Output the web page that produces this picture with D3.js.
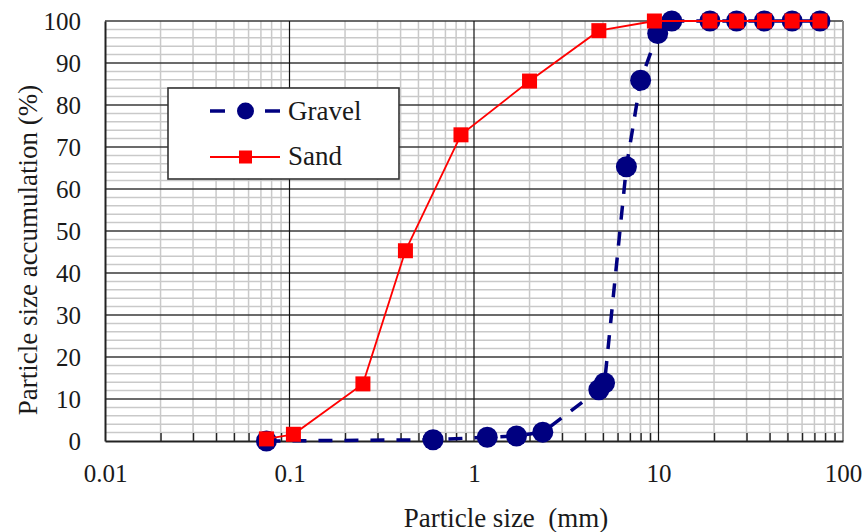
<!DOCTYPE html>
<html>
<head>
<meta charset="utf-8">
<script src="https://cdn.jsdelivr.net/npm/d3@7"></script>
<style>
  html, body { margin: 0; padding: 0; background: #fff; }
  svg { display: block; }
  svg text { font-family: "Times New Roman", "Liberation Serif", Tinos, "DejaVu Serif", serif; }
</style>
</head>
<body>
<svg id="chart" width="865" height="532"></svg>
<script>
// Sieve sizes (mm) and cumulative passing (%) for each material
const gravelSize = [0.075, 0.6, 1.18, 1.7, 2.36, 4.75, 5.1, 6.7, 8, 9.9, 11.8, 19, 26.5, 37.5, 53, 75];
const gravelPass = [0, 0.3, 0.9, 1.2, 2.1, 12.2, 13.8, 65.3, 85.9, 97, 100, 100, 100, 100, 100, 100];
const sandSize = [0.075, 0.105, 0.25, 0.425, 0.85, 2, 4.75, 9.5, 19, 26.5, 37.5, 53, 75];
const sandPass = [0.5, 1.6, 13.6, 45.3, 72.9, 85.7, 97.7, 100, 100, 100, 100, 100, 100];

// Axis tick labels
const xTickValues = [0.01, 0.1, 1, 10, 100];
const xTickLabels = ["0.01", "0.1", "1", "10", "100"];
const yTickValues = [0, 10, 20, 30, 40, 50, 60, 70, 80, 90, 100];

const FONT = '"Times New Roman", "Liberation Serif", Tinos, "DejaVu Serif", serif';
const svg = d3.select("#chart");
const plot = { left: 105, right: 843, top: 21, bottom: 441 };

const x = d3.scaleLog().domain([0.01, 100]).range([plot.left, plot.right]);
const y = d3.scaleLinear().domain([0, 100]).range([plot.bottom, plot.top]);

const g = svg.append("g");

// Minor grid (every 2 % and 2..9 within each decade)
const xMinor = x.ticks().filter(d => !xTickValues.includes(d));
const yMinor = y.ticks(50).filter(d => d % 10 !== 0);

g.append("g").selectAll("line").data(xMinor).join("line")
  .attr("x1", d => x(d)).attr("x2", d => x(d))
  .attr("y1", plot.top).attr("y2", plot.bottom)
  .attr("stroke", "#c9c9c9").attr("stroke-width", 1.5);

g.append("g").selectAll("line").data(yMinor).join("line")
  .attr("x1", plot.left).attr("x2", plot.right)
  .attr("y1", d => y(d)).attr("y2", d => y(d))
  .attr("stroke", "#c9c9c9").attr("stroke-width", 1.5);

// Major grid
g.append("g").selectAll("line").data(yTickValues.filter(d => d > 0)).join("line")
  .attr("x1", plot.left).attr("x2", plot.right)
  .attr("y1", d => y(d)).attr("y2", d => y(d))
  .attr("stroke", "#3a3a3a").attr("stroke-width", 1.6);

g.append("g").selectAll("line").data(xTickValues.slice(1, -1)).join("line")
  .attr("x1", d => x(d)).attr("x2", d => x(d))
  .attr("y1", plot.top).attr("y2", plot.bottom)
  .attr("stroke", "#111").attr("stroke-width", 1.2);

// Right border of the plot area
g.append("line")
  .attr("x1", plot.right).attr("x2", plot.right)
  .attr("y1", plot.top).attr("y2", plot.bottom)
  .attr("stroke", "#8c8c8c").attr("stroke-width", 2);

// Inner minor ticks along the bottom axis
g.append("g")
  .attr("transform", `translate(0,${plot.bottom})`)
  .call(d3.axisBottom(x).tickValues(xMinor).tickSizeInner(-8).tickSizeOuter(0).tickFormat(""))
  .call(a => a.select(".domain").remove())
  .call(a => a.selectAll("line").attr("stroke", "#222").attr("stroke-width", 1.4));

// Bottom axis with labels
g.append("g")
  .attr("transform", `translate(0,${plot.bottom})`)
  .call(d3.axisBottom(x).tickValues(xTickValues).tickSize(0).tickPadding(23)
    .tickFormat((d, i) => xTickLabels[i]))
  .attr("font-family", FONT)
  .call(a => a.select(".domain").attr("stroke", "#222").attr("stroke-width", 2))
  .call(a => a.selectAll("text").attr("font-size", 25).attr("fill", "#1a1a1a"));

// Left axis with labels
g.append("g")
  .attr("transform", `translate(${plot.left},0)`)
  .call(d3.axisLeft(y).tickValues(yTickValues).tickSize(0).tickPadding(24))
  .attr("font-family", FONT)
  .call(a => a.select(".domain").attr("stroke", "#222").attr("stroke-width", 2))
  .call(a => a.selectAll("text").attr("font-size", 25).attr("fill", "#1a1a1a"));

// Series
const line = d3.line().x(d => x(d[0])).y(d => y(d[1]));
const gravel = d3.zip(gravelSize, gravelPass);
const sand = d3.zip(sandSize, sandPass);

const navy = "#000080";
const red = "#ff0000";

g.append("path").datum(gravel).attr("d", line)
  .attr("fill", "none").attr("stroke", navy).attr("stroke-width", 3.5)
  .attr("stroke-dasharray", "14,12");
g.append("g").selectAll("circle").data(gravel).join("circle")
  .attr("cx", d => x(d[0])).attr("cy", d => y(d[1])).attr("r", 10.5)
  .attr("fill", navy);

g.append("path").datum(sand).attr("d", line)
  .attr("fill", "none").attr("stroke", red).attr("stroke-width", 1.8);
g.append("g").selectAll("rect").data(sand).join("rect")
  .attr("x", d => x(d[0]) - 7.5).attr("y", d => y(d[1]) - 7.5)
  .attr("width", 15).attr("height", 15).attr("fill", red);

// Legend
const lg = svg.append("g").attr("font-family", FONT);
lg.append("rect").attr("x", 168).attr("y", 88).attr("width", 231).attr("height", 91)
  .attr("fill", "#fff").attr("stroke", "#333").attr("stroke-width", 1.6);

lg.append("line").attr("x1", 210).attr("x2", 280).attr("y1", 111).attr("y2", 111)
  .attr("stroke", navy).attr("stroke-width", 3.5).attr("stroke-dasharray", "15,40");
lg.append("circle").attr("cx", 245.5).attr("cy", 111).attr("r", 8.5).attr("fill", navy);
lg.append("text").attr("x", 288).attr("y", 119.5).attr("font-size", 27)
  .attr("fill", "#1a1a1a").text("Gravel");

lg.append("line").attr("x1", 210).attr("x2", 280).attr("y1", 157).attr("y2", 157)
  .attr("stroke", red).attr("stroke-width", 1.8);
lg.append("rect").attr("x", 239).attr("y", 150.5).attr("width", 13).attr("height", 13)
  .attr("fill", red);
lg.append("text").attr("x", 288).attr("y", 165).attr("font-size", 27)
  .attr("fill", "#1a1a1a").text("Sand");

// Axis titles
svg.append("text")
  .attr("x", 506).attr("y", 527).attr("text-anchor", "middle")
  .attr("font-family", FONT)
  .attr("font-size", 27).attr("fill", "#1a1a1a").style("white-space", "pre")
  .text("Particle size  (mm)");

svg.append("text")
  .attr("transform", "translate(37,250) rotate(-90)").attr("text-anchor", "middle")
  .attr("font-family", FONT)
  .attr("font-size", 27).attr("fill", "#1a1a1a")
  .text("Particle size accumulation (%)");
</script>
</body>
</html>
